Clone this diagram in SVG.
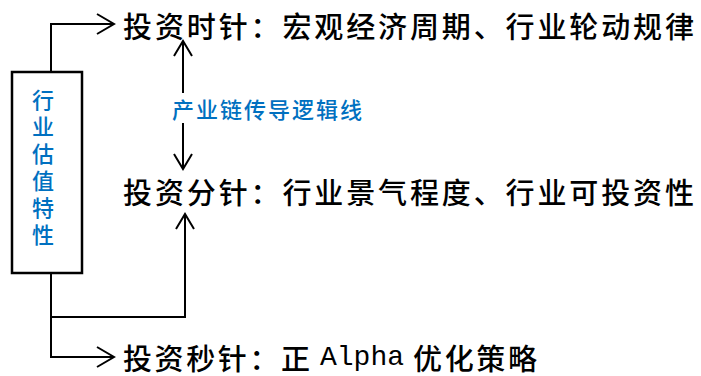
<svg xmlns="http://www.w3.org/2000/svg" width="701" height="376" viewBox="0 0 701 376">
<style>
.ln{fill:none;stroke:#000;stroke-width:2;stroke-linejoin:miter}
.main{font-family:"Noto Sans CJK SC","Liberation Serif",serif;font-size:29px;font-weight:500;fill:#000;dominant-baseline:central}
.mono{font-family:"Liberation Mono",monospace;font-size:28px;fill:#000;dominant-baseline:central}
.blue{font-family:"Noto Sans CJK SC","Liberation Sans",sans-serif;font-weight:500;fill:#0070C0;dominant-baseline:central}
</style>
<rect width="701" height="376" fill="#fff"/>
<g id="connectors">
<polyline class="ln" points="51,72 51,24 114,24"/>
<polyline class="ln" points="97,14 114,24 97,34"/>
<polyline class="ln" points="51,273 51,357 114,357"/>
<polyline class="ln" points="97,347 114,357 97,367"/>
<polyline class="ln" points="51,317 185,317 185,214"/>
<polyline class="ln" points="176,229 185,214 194,229"/>
<line class="ln" x1="183" y1="41" x2="183" y2="93"/>
<polyline class="ln" points="174,56 183,41 192,56"/>
<line class="ln" x1="183" y1="123" x2="183" y2="169"/>
<polyline class="ln" points="174,154 183,169 192,154"/>
</g>
<g id="box">
<rect x="12" y="72" width="70" height="201" fill="#fff" stroke="#000" stroke-width="2.5"/>
<text class="blue" font-size="22" text-anchor="middle">
<tspan x="43" y="98">行</tspan><tspan x="43" y="125">业</tspan><tspan x="43" y="152">估</tspan><tspan x="43" y="179">值</tspan><tspan x="43" y="206">特</tspan><tspan x="43" y="233">性</tspan>
</text>
</g>
<g id="label">
<text class="blue" font-size="22" x="172" y="108" textLength="190" lengthAdjust="spacing">产业链传导逻辑线</text>
</g>
<g id="hour">
<text class="main" x="123" y="25" textLength="571" lengthAdjust="spacing">投资时针：宏观经济周期、行业轮动规律</text>
</g>
<g id="minute">
<text class="main" x="123" y="191" textLength="571" lengthAdjust="spacing">投资分针：行业景气程度、行业可投资性</text>
</g>
<g id="second">
<text class="main" x="123" y="357" textLength="187" lengthAdjust="spacing">投资秒针：正</text>
<text class="mono" x="320" y="357">Alpha</text>
<text class="main" x="413" y="357" textLength="124" lengthAdjust="spacing">优化策略</text>
</g>
</svg>
